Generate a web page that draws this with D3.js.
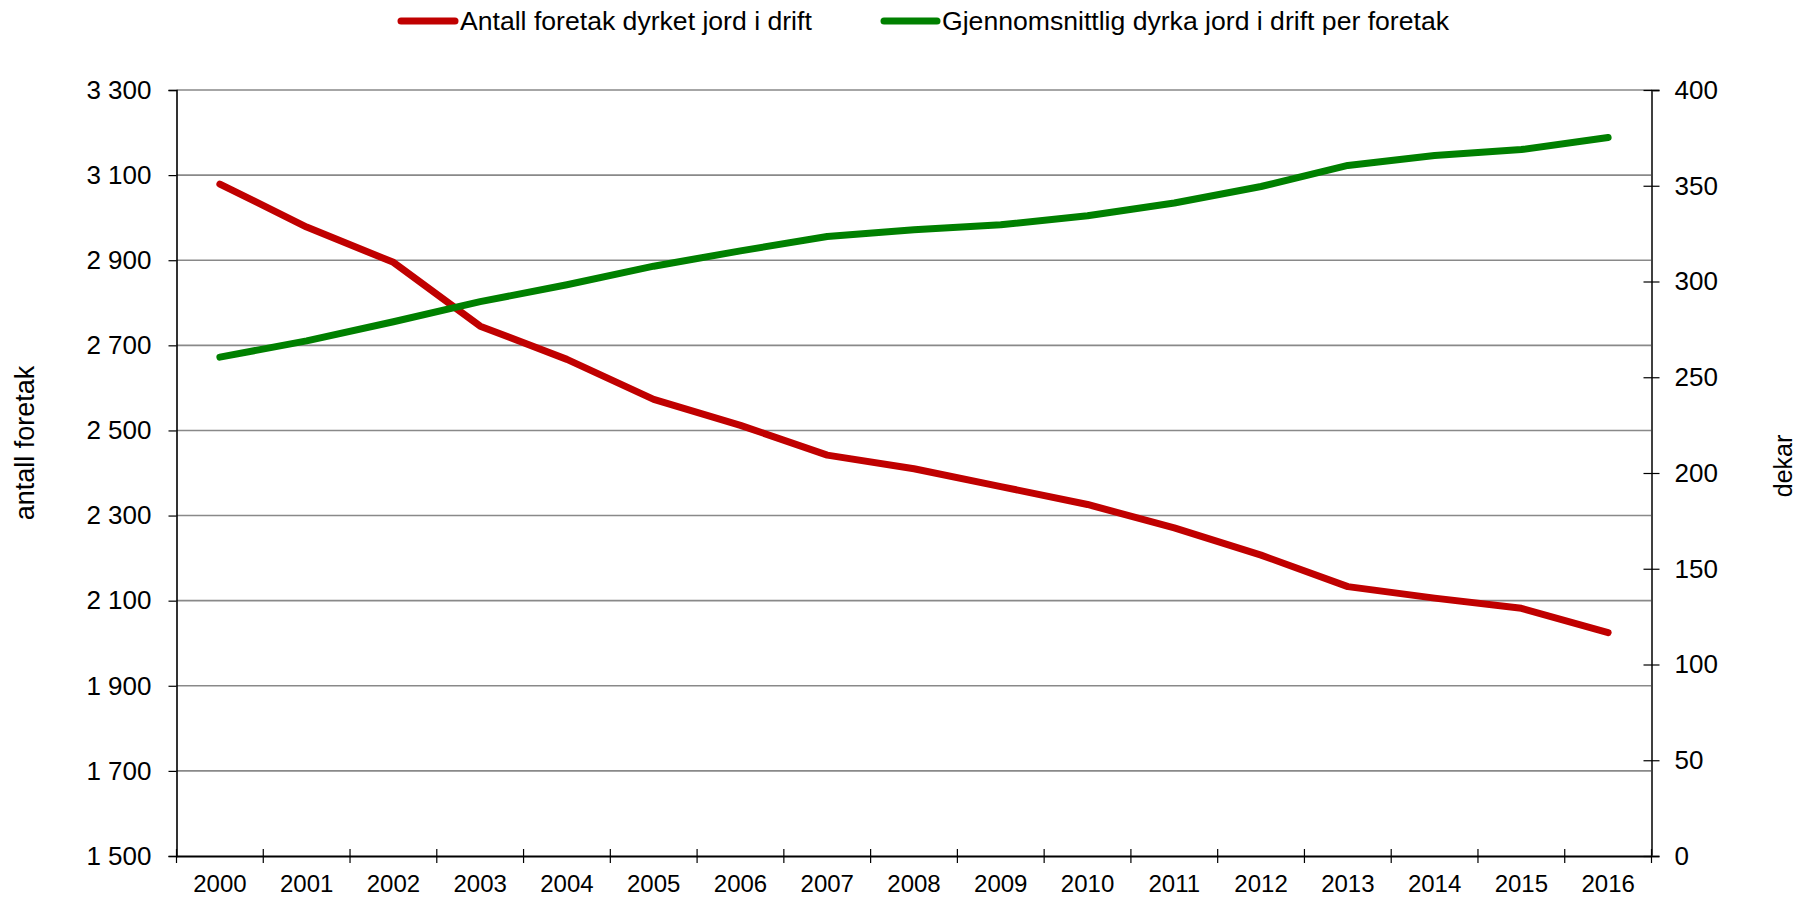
<!DOCTYPE html>
<html>
<head>
<meta charset="utf-8">
<script src="https://cdn.jsdelivr.net/npm/d3@7"></script>
<style>
  body { margin: 0; background: #fff; }
  text { font-family: "Liberation Sans", Arial, sans-serif; fill: #000; }
</style>
</head>
<body>
<div id="chart"></div>
<script>
// data
const years = ["2000", "2001", "2002", "2003", "2004", "2005", "2006", "2007", "2008",
  "2009", "2010", "2011", "2012", "2013", "2014", "2015", "2016"];
const antallForetak = [3079, 2978, 2895, 2745, 2667, 2573, 2512, 2442, 2410,
  2368, 2326, 2271, 2207, 2133, 2106, 2082, 2025];
const snittDekar = [260.5, 269, 279, 289.5, 298.3, 308, 316, 323.5, 327,
  329.6, 334.3, 341, 349.6, 360.6, 365.8, 368.9, 375.2];
const leftTicks = [1500, 1700, 1900, 2100, 2300, 2500, 2700, 2900, 3100, 3300];
const rightTicks = [0, 50, 100, 150, 200, 250, 300, 350, 400];
const seriesNames = ["Antall foretak dyrket jord i drift",
  "Gjennomsnittlig dyrka jord i drift per foretak"];
const seriesColors = ["#c00000", "#008000"];

const W = 1806, H = 898;
const plot = { left: 176.5, right: 1651.5, top: 90, bottom: 856 };

const svg = d3.select("#chart").append("svg")
  .attr("width", W)
  .attr("height", H);

const x = d3.scaleBand().domain(years).range([plot.left, plot.right]);
const yL = d3.scaleLinear().domain([1500, 3300]).range([plot.bottom, plot.top]);
const yR = d3.scaleLinear().domain([0, 400]).range([plot.bottom, plot.top]);

const nb = d3.formatLocale({ decimal: ",", thousands: " ", grouping: [3], currency: ["", ""] }).format(",");

// gridlines
svg.append("g")
  .selectAll("line")
  .data(leftTicks.slice(1))
  .enter()
  .append("line")
  .attr("x1", plot.left)
  .attr("x2", plot.right)
  .attr("y1", (d) => yL(d))
  .attr("y2", (d) => yL(d))
  .attr("stroke", "#898989")
  .attr("stroke-width", 1.6);

// left axis
const gLeft = svg.append("g")
  .attr("transform", "translate(" + plot.left + ",0)")
  .call(d3.axisLeft(yL).tickValues(leftTicks).tickFormat(nb).tickSize(8).tickPadding(17));
gLeft.select(".domain").attr("stroke", "#000").attr("stroke-width", 1.6);
gLeft.selectAll(".tick line").attr("stroke", "#000").attr("stroke-width", 1.2);
gLeft.selectAll("text").attr("font-size", 26).attr("font-family", "Liberation Sans, Arial, sans-serif");

// right axis
const gRight = svg.append("g")
  .attr("transform", "translate(" + plot.right + ",0)")
  .call(d3.axisRight(yR).tickValues(rightTicks).tickSize(8).tickPadding(15));
gRight.select(".domain").attr("stroke", "#404040").attr("stroke-width", 2);
gRight.selectAll(".tick line").attr("x1", -8).attr("stroke", "#000").attr("stroke-width", 1.2);
gRight.selectAll("text").attr("font-size", 26).attr("font-family", "Liberation Sans, Arial, sans-serif");

// bottom axis: labels centered in bands, ticks on band edges
const gBottom = svg.append("g")
  .attr("transform", "translate(0," + plot.bottom + ")")
  .call(d3.axisBottom(x).tickSize(0).tickPadding(19));
gBottom.select(".domain").attr("stroke", "#000").attr("stroke-width", 2);
gBottom.selectAll("text").attr("font-size", 24).attr("font-family", "Liberation Sans, Arial, sans-serif");
gBottom.append("g")
  .selectAll("line")
  .data(years.map((d) => x(d)).concat([plot.right]))
  .enter()
  .append("line")
  .attr("x1", (d) => d)
  .attr("x2", (d) => d)
  .attr("y1", -7)
  .attr("y2", 7)
  .attr("stroke", "#000")
  .attr("stroke-width", 1.2);

// lines
const cx = (d, i) => x(years[i]) + x.bandwidth() / 2;
const lineL = d3.line().x(cx).y((d) => yL(d));
const lineR = d3.line().x(cx).y((d) => yR(d));

svg.append("path")
  .datum(antallForetak)
  .attr("d", lineL)
  .attr("fill", "none")
  .attr("stroke", seriesColors[0])
  .attr("stroke-width", 7)
  .attr("stroke-linecap", "round")
  .attr("stroke-linejoin", "round");

svg.append("path")
  .datum(snittDekar)
  .attr("d", lineR)
  .attr("fill", "none")
  .attr("stroke", seriesColors[1])
  .attr("stroke-width", 7)
  .attr("stroke-linecap", "round")
  .attr("stroke-linejoin", "round");

// axis titles
svg.append("text")
  .attr("transform", "translate(25,443) rotate(-90)")
  .attr("text-anchor", "middle")
  .attr("dominant-baseline", "central")
  .attr("font-size", 27)
  .text("antall foretak");

svg.append("text")
  .attr("transform", "translate(1783,466) rotate(-90)")
  .attr("text-anchor", "middle")
  .attr("dominant-baseline", "central")
  .attr("font-size", 25)
  .text("dekar");

// legend
const legendX = [[401, 455, 460], [884, 937, 942]];
const legend = svg.append("g")
  .selectAll("g")
  .data(seriesNames)
  .enter()
  .append("g");

legend.append("line")
  .attr("x1", (d, i) => legendX[i][0])
  .attr("x2", (d, i) => legendX[i][1])
  .attr("y1", 21)
  .attr("y2", 21)
  .attr("stroke", (d, i) => seriesColors[i])
  .attr("stroke-width", 7)
  .attr("stroke-linecap", "round");

legend.append("text")
  .attr("x", (d, i) => legendX[i][2])
  .attr("y", 29.5)
  .attr("font-size", 26.6)
  .text((d) => d);
</script>
</body>
</html>
